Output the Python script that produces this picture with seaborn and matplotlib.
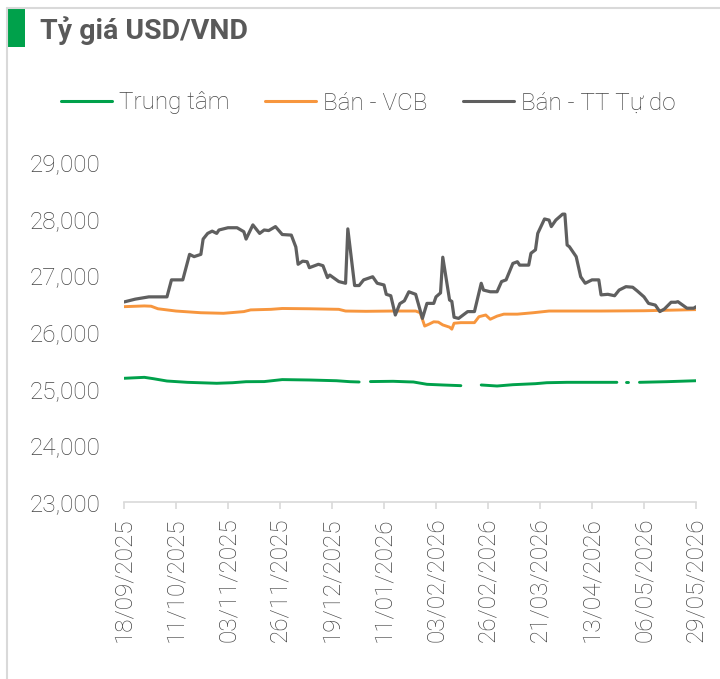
import numpy as np
import pandas as pd
import matplotlib
matplotlib.use("Agg")
import matplotlib.pyplot as plt
import matplotlib.dates as mdates
from matplotlib.lines import Line2D
from matplotlib.patches import Rectangle
import seaborn as sns

# ---------------- data ----------------
title = "Tỷ giá USD/VND"
series_names = ["Trung tâm", "Bán - VCB", "Bán - TT Tự do"]

tt_dates = ["2025-09-18", "2025-09-23", "2025-09-29", "2025-10-07", "2025-10-09", "2025-10-14",
            "2025-10-17", "2025-10-19", "2025-10-22", "2025-10-23", "2025-10-25", "2025-10-27",
            "2025-10-29", "2025-10-30", "2025-11-03", "2025-11-07", "2025-11-10", "2025-11-11",
            "2025-11-14", "2025-11-17", "2025-11-19", "2025-11-21", "2025-11-24", "2025-11-27",
            "2025-12-01", "2025-12-03", "2025-12-04", "2025-12-06", "2025-12-08", "2025-12-09",
            "2025-12-13", "2025-12-15", "2025-12-17", "2025-12-18", "2025-12-22", "2025-12-25",
            "2025-12-26", "2025-12-29", "2025-12-31", "2026-01-02", "2026-01-06", "2026-01-08",
            "2026-01-11", "2026-01-12", "2026-01-14", "2026-01-16", "2026-01-18", "2026-01-20",
            "2026-01-22", "2026-01-25", "2026-01-28", "2026-01-30", "2026-02-02", "2026-02-03",
            "2026-02-05", "2026-02-06", "2026-02-09", "2026-02-10", "2026-02-11", "2026-02-13",
            "2026-02-17", "2026-02-20", "2026-02-23", "2026-02-24", "2026-02-27", "2026-03-02",
            "2026-03-04", "2026-03-06", "2026-03-09", "2026-03-11", "2026-03-12", "2026-03-16",
            "2026-03-17", "2026-03-19", "2026-03-20", "2026-03-23", "2026-03-25", "2026-03-26",
            "2026-03-28", "2026-03-31", "2026-04-01", "2026-04-02", "2026-04-03", "2026-04-06",
            "2026-04-08", "2026-04-10", "2026-04-13", "2026-04-16", "2026-04-17", "2026-04-20",
            "2026-04-23", "2026-04-25", "2026-04-28", "2026-05-01", "2026-05-03", "2026-05-06",
            "2026-05-08", "2026-05-11", "2026-05-13", "2026-05-15", "2026-05-18", "2026-05-20",
            "2026-05-21", "2026-05-25", "2026-05-28", "2026-05-29"]
tt_values = [26530, 26580, 26620, 26620, 26920, 26920,
             27370, 27330, 27370, 27640, 27740, 27780,
             27740, 27800, 27840, 27840, 27770, 27640,
             27890, 27740, 27800, 27790, 27860, 27720,
             27710, 27500, 27195, 27250, 27240, 27135,
             27195, 27170, 26960, 27005, 26890, 26860,
             27820, 26820, 26820, 26920, 26975, 26860,
             26830, 26665, 26640, 26300, 26500, 26550,
             26710, 26665, 26240, 26505, 26505, 26620,
             26690, 27320, 26565, 26540, 26260, 26240,
             26360, 26360, 26860, 26740, 26710, 26710,
             26890, 26920, 27210, 27240, 27180, 27180,
             27390, 27450, 27740, 27995, 27975, 27860,
             27975, 28080, 28080, 27535, 27505, 27330,
             26975, 26860, 26920, 26920, 26655, 26665,
             26640, 26740, 26800, 26790, 26725, 26620,
             26505, 26475, 26360, 26405, 26525, 26525,
             26535, 26420, 26420, 26445]

vcb_dates = ["2025-09-18", "2025-09-27", "2025-09-30", "2025-10-03", "2025-10-11", "2025-10-22",
             "2025-11-01", "2025-11-10", "2025-11-13", "2025-11-22", "2025-11-27", "2025-12-09",
             "2025-12-22", "2025-12-25", "2026-01-03", "2026-01-15", "2026-01-22", "2026-01-25",
             "2026-01-27", "2026-01-29", "2026-01-31", "2026-02-02", "2026-02-04", "2026-02-06",
             "2026-02-09", "2026-02-10", "2026-02-11", "2026-02-14", "2026-02-20", "2026-02-22",
             "2026-02-25", "2026-02-27", "2026-03-02", "2026-03-05", "2026-03-11", "2026-03-18",
             "2026-03-25", "2026-04-17", "2026-05-06", "2026-05-29"]
vcb_values = [26447, 26460, 26455, 26410, 26370, 26340,
              26330, 26360, 26390, 26400, 26415, 26410,
              26400, 26370, 26365, 26370, 26370, 26370,
              26340, 26105, 26140, 26180, 26175, 26125,
              26085, 26050, 26155, 26165, 26165, 26270,
              26300, 26225, 26280, 26315, 26315, 26340,
              26370, 26370, 26375, 26395]

# None marks days without a published central rate (holidays)
central_dates = ["2025-09-18", "2025-09-27", "2025-10-01", "2025-10-07", "2025-10-16", "2025-10-29",
                 "2025-11-05", "2025-11-11", "2025-11-19", "2025-11-27", "2025-12-09", "2025-12-21",
                 "2025-12-27", "2025-12-31", "2026-01-02",
                 "2026-01-05", "2026-01-15", "2026-01-22", "2026-01-24", "2026-01-30", "2026-02-06",
                 "2026-02-14", "2026-02-18",
                 "2026-02-23", "2026-03-02", "2026-03-09", "2026-03-19", "2026-03-24", "2026-04-02",
                 "2026-04-17", "2026-04-24", "2026-04-26",
                 "2026-04-28", "2026-04-29", "2026-05-01",
                 "2026-05-04", "2026-05-16", "2026-05-29"]
central_values = [25183, 25200, 25176, 25135, 25112, 25095,
                  25105, 25123, 25125, 25160, 25153, 25140,
                  25123, 25118, None,
                  25125, 25130, 25120, 25118, 25077, 25065,
                  25053, None,
                  25065, 25047, 25070, 25088, 25105, 25112,
                  25112, 25112, None,
                  25112, 25112, None,
                  25112, 25123, 25140]

tick_dates = ["2025-09-18", "2025-10-11", "2025-11-03", "2025-11-26", "2025-12-19", "2026-01-11",
              "2026-02-03", "2026-02-26", "2026-03-21", "2026-04-13", "2026-05-06", "2026-05-29"]
y_ticks = [23000, 24000, 25000, 26000, 27000, 28000, 29000]

colors = ["#00A14B", "#F7963E", "#5F5F5F"]

# ---------------- figure ----------------
sns.set_theme(style="white")
plt.rcParams["font.family"] = ["Roboto", "DejaVu Sans"]

W, H, DPI = 720, 679, 100
fig = plt.figure(figsize=(W / DPI, H / DPI), dpi=DPI)
ax = fig.add_axes([124 / W, 1 - 502 / H, (696 - 124) / W, (502 - 162) / H])

def seg_frame(dates, values):
    df = pd.DataFrame({"date": pd.to_datetime(dates), "value": values}, dtype=object)
    df["date"] = pd.to_datetime(df["date"])
    df["value"] = pd.to_numeric(df["value"])
    df["seg"] = df["value"].isna().cumsum()
    return df.dropna()

df_c = seg_frame(central_dates, central_values)
df_v = seg_frame(vcb_dates, vcb_values)
df_t = seg_frame(tt_dates, tt_values)

sns.lineplot(data=df_c, x="date", y="value", units="seg", estimator=None,
             color=colors[0], lw=2.1, ax=ax, legend=False)
sns.lineplot(data=df_v, x="date", y="value", units="seg", estimator=None,
             color=colors[1], lw=2.1, ax=ax, legend=False)
sns.lineplot(data=df_t, x="date", y="value", units="seg", estimator=None,
             color=colors[2], lw=2.3, ax=ax, legend=False)

ticks = pd.to_datetime(tick_dates)
ax.set_xlim(ticks[0], ticks[-1])
ax.set_ylim(y_ticks[0], y_ticks[-1])
ax.set_xticks(ticks)
ax.set_xticklabels([t.strftime("%d/%m/%Y") for t in ticks], rotation=90)
ax.set_yticks(y_ticks)
ax.set_yticklabels([f"{v:,}" for v in y_ticks])
ax.set_xlabel("")
ax.set_ylabel("")
ax.grid(False)

TXT = "#454545"
for s in ["top", "right", "left"]:
    ax.spines[s].set_visible(False)
ax.spines["bottom"].set_color("#D9D9D9")
ax.spines["bottom"].set_linewidth(1.2)
ax.tick_params(axis="x", colors=TXT, labelsize=17.5, length=5, width=1.2,
               color="#D9D9D9", pad=6, direction="out", bottom=True)
ax.tick_params(axis="y", colors=TXT, labelsize=17.5, length=0, pad=17)
for lab in ax.get_yticklabels() + ax.get_xticklabels():
    lab.set_color(TXT)
    lab.set_fontweight("light")

# legend
handles = [Line2D([], [], color=c, lw=2.2) for c in colors]
leg = fig.legend(handles, series_names, loc="center left",
                 bbox_to_anchor=(61 / W, 1 - 103 / H), ncol=3, frameon=False,
                 prop={"size": 17.5, "weight": "light"}, handlelength=2.1,
                 handletextpad=0.3, columnspacing=1.45, borderaxespad=0, borderpad=0)
for t in leg.get_texts():
    t.set_color(TXT)

# frame lines and title block
fig.add_artist(Line2D([7 / W, 1], [1 - 8 / H, 1 - 8 / H], transform=fig.transFigure,
                      color="#D9D9D9", lw=1.5))
fig.add_artist(Line2D([7 / W, 7 / W], [0, 1 - 8 / H], transform=fig.transFigure,
                      color="#D9D9D9", lw=1.5))
fig.add_artist(Rectangle((6 / W, 1 - 47 / H), 19 / W, 39 / H, transform=fig.transFigure,
                         facecolor="#00A14B", edgecolor="none"))
fig.text(40 / W, 1 - 31 / H, title, fontsize=20.5, fontweight="bold",
         color="#595959", va="center", ha="left")

fig.savefig("out.png", dpi=DPI, facecolor="white")
